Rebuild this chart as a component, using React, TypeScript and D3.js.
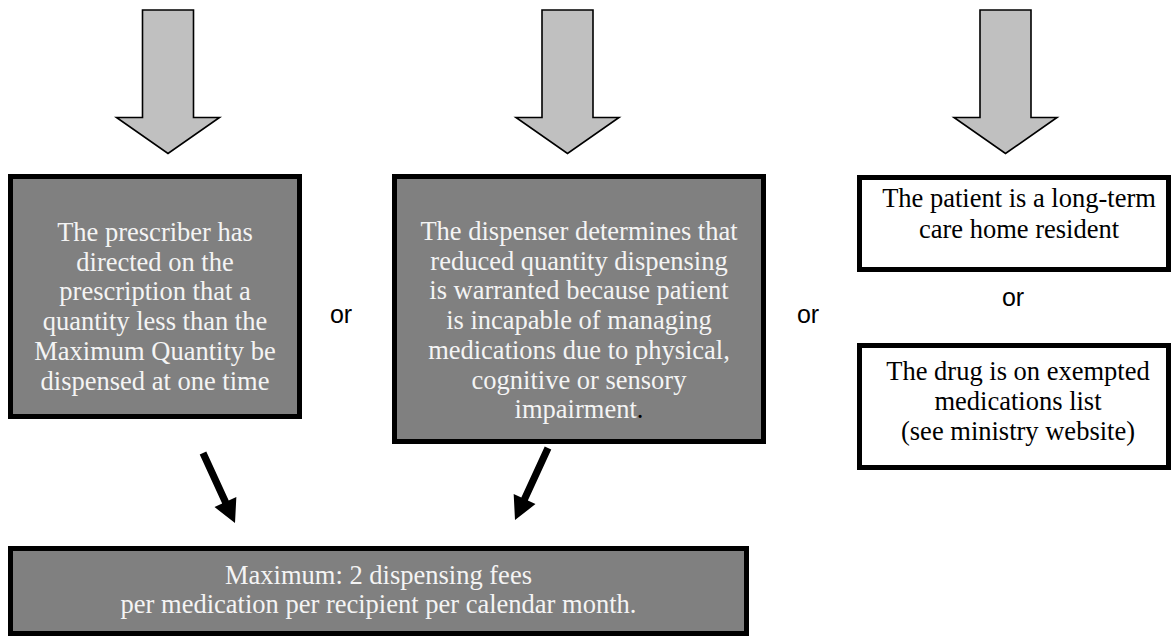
import React from "react";
import * as d3 from "d3";

// ---- content ----
const conditionA = [
  "The prescriber has",
  "directed on the",
  "prescription that a",
  "quantity less than the",
  "Maximum Quantity be",
  "dispensed at one time",
];
const conditionB = [
  "The dispenser determines that",
  "reduced quantity dispensing",
  "is warranted because patient",
  "is incapable of managing",
  "medications due to physical,",
  "cognitive or sensory",
  "impairment",
];
const exemptC1 = ["The patient is a long-term", "care home resident"];
const exemptC2 = ["The drug is on exempted", "medications list", "(see ministry website)"];
const resultLines = ["Maximum: 2 dispensing fees", "per medication per recipient per calendar month."];
const orLabel = "or";

// ---- layout ----
const W = 1173;
const H = 641;
const SERIF = "'Liberation Serif', 'Times New Roman', serif";
const SANS = "'Liberation Sans', Arial, sans-serif";
const DARK = "#808080";
const LIGHT_TEXT = "#f4f4f4";
const BORDER = 5;
const FS = 26.5;
const LH = 29.7;

type Box = { x0: number; y0: number; x1: number; y1: number };

const boxA: Box = { x0: 8, y0: 174, x1: 302, y1: 419 };
const boxB: Box = { x0: 392, y0: 174, x1: 766, y1: 444 };
const boxC1: Box = { x0: 857, y0: 175, x1: 1171, y1: 272 };
const boxC2: Box = { x0: 857, y0: 343, x1: 1171, y1: 470 };
const boxR: Box = { x0: 8, y0: 546, x1: 749, y1: 636 };

const grayArrowCenters = [168, 567.5, 1005.5];

function grayArrowPath(cx: number) {
  const shaftHalf = 25.5;
  const headHalf = 51.5;
  const top = 10;
  const headY = 117.5;
  const tip = 153.5;
  const pts: [number, number][] = [
    [cx - shaftHalf, top],
    [cx + shaftHalf, top],
    [cx + shaftHalf, headY],
    [cx + headHalf, headY],
    [cx, tip],
    [cx - headHalf, headY],
    [cx - shaftHalf, headY],
  ];
  return d3.line()(pts)! + "Z";
}

function blackArrowPath(x0: number, y0: number, x1: number, y1: number) {
  const dx = x1 - x0;
  const dy = y1 - y0;
  const len = Math.hypot(dx, dy);
  const ux = dx / len;
  const uy = dy / len;
  const px = -uy;
  const py = ux;
  const sh = 3.6;
  const hh = 12;
  const hl = 23;
  const bx = x1 - ux * hl;
  const by = y1 - uy * hl;
  const pts: [number, number][] = [
    [x0 + px * sh, y0 + py * sh],
    [bx + px * sh, by + py * sh],
    [bx + px * hh, by + py * hh],
    [x1, y1],
    [bx - px * hh, by - py * hh],
    [bx - px * sh, by - py * sh],
    [x0 - px * sh, y0 - py * sh],
  ];
  return d3.line()(pts)! + "Z";
}

function BoxRect({ b, fill }: { b: Box; fill: string }) {
  const h = BORDER / 2;
  return (
    <rect
      x={b.x0 + h}
      y={b.y0 + h}
      width={b.x1 - b.x0 - BORDER}
      height={b.y1 - b.y0 - BORDER}
      fill={fill}
      stroke="#000"
      strokeWidth={BORDER}
    />
  );
}

function Lines({
  lines,
  cx,
  y,
  color,
  lh = LH,
  tailDot = false,
}: {
  lines: string[];
  cx: number;
  y: number;
  color: string;
  lh?: number;
  tailDot?: boolean;
}) {
  return (
    <text fontFamily={SERIF} fontSize={FS} fill={color} textAnchor="middle">
      {lines.map((l, i) => (
        <tspan key={i} x={cx} y={y + i * lh}>
          {l}
          {tailDot && i === lines.length - 1 ? <tspan fill="#000">.</tspan> : null}
        </tspan>
      ))}
    </text>
  );
}

export default function App() {
  return (
    <svg
      width={W}
      height={H}
      style={{ position: "absolute", left: 0, top: 0, background: "#fff" }}
    >
      {grayArrowCenters.map((cx, i) => (
        <path
          key={i}
          d={grayArrowPath(cx)}
          fill="#c0c0c0"
          stroke="#000"
          strokeWidth={1.6}
          strokeLinejoin="miter"
        />
      ))}

      <BoxRect b={boxA} fill={DARK} />
      <Lines lines={conditionA} cx={(boxA.x0 + boxA.x1) / 2} y={241} color={LIGHT_TEXT} />

      <BoxRect b={boxB} fill={DARK} />
      <Lines lines={conditionB} cx={(boxB.x0 + boxB.x1) / 2} y={240} color={LIGHT_TEXT} tailDot />

      <BoxRect b={boxC1} fill="#fff" />
      <Lines lines={exemptC1} cx={1019} y={207} color="#000" lh={31} />

      <BoxRect b={boxC2} fill="#fff" />
      <Lines lines={exemptC2} cx={1018} y={380} color="#000" lh={30} />

      <BoxRect b={boxR} fill={DARK} />
      <Lines lines={resultLines} cx={(boxR.x0 + boxR.x1) / 2} y={584} color={LIGHT_TEXT} lh={28.5} />

      <text fontFamily={SANS} fontSize={25} fill="#000" textAnchor="middle">
        <tspan x={341} y={323}>{orLabel}</tspan>
        <tspan x={808} y={323}>{orLabel}</tspan>
        <tspan x={1013} y={306}>{orLabel}</tspan>
      </text>

      <path d={blackArrowPath(203, 453, 235, 523)} fill="#000" />
      <path d={blackArrowPath(548, 448, 515, 520)} fill="#000" />
    </svg>
  );
}
